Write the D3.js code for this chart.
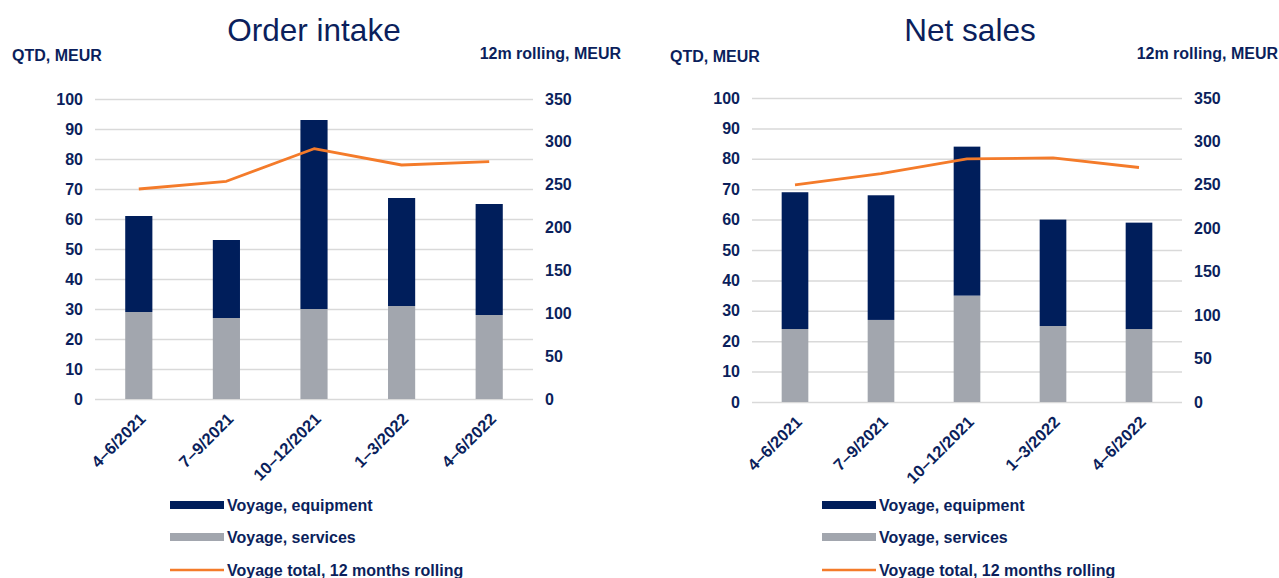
<!DOCTYPE html>
<html>
<head>
<meta charset="utf-8">
<script src="https://cdn.jsdelivr.net/npm/d3@7"></script>
<style>
  html, body { margin: 0; padding: 0; background: #ffffff; }
  svg { display: block; font-family: "Liberation Sans", Arial, sans-serif; }
</style>
</head>
<body>
<svg id="chart" width="1279" height="578"></svg>
<script>
// Quarters shown on the category axis
const quarters = ["4\u20136/2021", "7\u20139/2021", "10\u201312/2021", "1\u20133/2022", "4\u20136/2022"];

// Order intake, QTD MEUR
const orderServices  = [29, 27, 30, 31, 28];
const orderEquipment = [32, 26, 63, 36, 37];   // stacked on top of services
const orderRolling   = [245, 254, 292, 273, 277]; // 12m rolling total, MEUR

// Net sales, QTD MEUR
const salesServices  = [24, 27, 35, 25, 24];
const salesEquipment = [45, 41, 49, 35, 35];
const salesRolling   = [250, 263, 280, 281, 270];

// Axis ticks
const qtdTicks     = [0, 10, 20, 30, 40, 50, 60, 70, 80, 90, 100];
const rollingTicks = [0, 50, 100, 150, 200, 250, 300, 350];

const legendLabels = ["Voyage, equipment", "Voyage, services", "Voyage total, 12 months rolling"];

const NAVY = "#0b1f5c";
const BAR_NAVY = "#001e5b";
const GREY = "#a2a6ae";
const ORANGE = "#f47b2a";
const GRID = "#d9d9d9";

const svg = d3.select("#chart");

function drawPanel(p) {
  const g = svg.append("g");

  const x = d3.scaleBand().domain(quarters).range([p.x0, p.x1]).paddingInner(0.69).paddingOuter(0.345);
  const yL = d3.scaleLinear().domain([0, 100]).range([p.yBottom, p.yTop]);
  const yR = d3.scaleLinear().domain([0, 350]).range([p.yBottom, p.yTop]);

  // Title and axis captions
  g.append("text").attr("x", p.titleX).attr("y", 41).attr("text-anchor", "middle")
    .attr("font-size", 31.5).attr("fill", NAVY).text(p.title);
  g.append("text").attr("x", p.qtdX).attr("y", p.qtdY).attr("font-size", 16).attr("font-weight", "bold")
    .attr("fill", NAVY).text("QTD, MEUR");
  g.append("text").attr("x", p.rollX).attr("y", 59).attr("text-anchor", "end").attr("font-size", 16)
    .attr("font-weight", "bold").attr("fill", NAVY).text("12m rolling, MEUR");

  // Left axis with gridlines
  const left = g.append("g").attr("transform", `translate(${p.x0},0)`)
    .call(d3.axisLeft(yL).tickValues(qtdTicks).tickSize(-(p.x1 - p.x0)).tickPadding(12));
  left.select(".domain").remove();
  left.selectAll(".tick line").attr("stroke", GRID).attr("stroke-width", 1.5);
  left.selectAll(".tick text").attr("font-size", 16).attr("font-weight", "bold").attr("fill", NAVY)
    .attr("font-family", "Liberation Sans, Arial, sans-serif");

  // Right axis labels
  const right = g.append("g").attr("transform", `translate(${p.x1},0)`)
    .call(d3.axisRight(yR).tickValues(rollingTicks).tickSize(0).tickPadding(12));
  right.select(".domain").remove();
  right.selectAll(".tick text").attr("font-size", 16).attr("font-weight", "bold").attr("fill", NAVY)
    .attr("font-family", "Liberation Sans, Arial, sans-serif");

  // Stacked bars
  const rows = quarters.map((q, i) => ({ q, s: p.services[i], e: p.equipment[i] }));
  g.selectAll(".svc").data(rows).join("rect")
    .attr("x", d => x(d.q)).attr("width", x.bandwidth())
    .attr("y", d => yL(d.s)).attr("height", d => yL(0) - yL(d.s))
    .attr("fill", GREY);
  g.selectAll(".eq").data(rows).join("rect")
    .attr("x", d => x(d.q)).attr("width", x.bandwidth())
    .attr("y", d => yL(d.s + d.e)).attr("height", d => yL(d.s) - yL(d.s + d.e))
    .attr("fill", BAR_NAVY);

  // 12 months rolling line on the right scale
  const line = d3.line().x((d, i) => x(quarters[i]) + x.bandwidth() / 2).y(d => yR(d));
  g.append("path").datum(p.rolling).attr("d", line).attr("fill", "none")
    .attr("stroke", ORANGE).attr("stroke-width", 2.8).attr("stroke-linejoin", "round");

  // Rotated category labels
  g.selectAll(".xl").data(quarters).join("text")
    .attr("transform", d => `translate(${x(d) + x.bandwidth() / 2 + 8},${p.yBottom + 21}) rotate(-45)`)
    .attr("text-anchor", "end").attr("font-size", 16.5).attr("font-weight", "bold").attr("fill", NAVY)
    .text(d => d);

  // Legend
  const lg = g.append("g");
  const rowsY = [505, 537, 570];
  lg.append("rect").attr("x", p.legX).attr("y", rowsY[0] - 4).attr("width", 54).attr("height", 8).attr("fill", BAR_NAVY);
  lg.append("rect").attr("x", p.legX).attr("y", rowsY[1] - 4).attr("width", 54).attr("height", 8).attr("fill", GREY);
  lg.append("line").attr("x1", p.legX).attr("x2", p.legX + 54).attr("y1", rowsY[2]).attr("y2", rowsY[2])
    .attr("stroke", ORANGE).attr("stroke-width", 2.5);
  legendLabels.forEach((t, i) => {
    lg.append("text").attr("x", p.legX + 57).attr("y", rowsY[i] + 6).attr("font-size", 16)
      .attr("font-weight", "bold").attr("fill", NAVY).text(t);
  });
}

drawPanel({
  title: "Order intake", titleX: 314, qtdX: 12, qtdY: 61, rollX: 621,
  x0: 95, x1: 533, yTop: 99, yBottom: 399,
  services: orderServices, equipment: orderEquipment, rolling: orderRolling,
  legX: 170
});

drawPanel({
  title: "Net sales", titleX: 970, qtdX: 670, qtdY: 62, rollX: 1278,
  x0: 752, x1: 1182, yTop: 98, yBottom: 402,
  services: salesServices, equipment: salesEquipment, rolling: salesRolling,
  legX: 822
});
</script>
</body>
</html>
